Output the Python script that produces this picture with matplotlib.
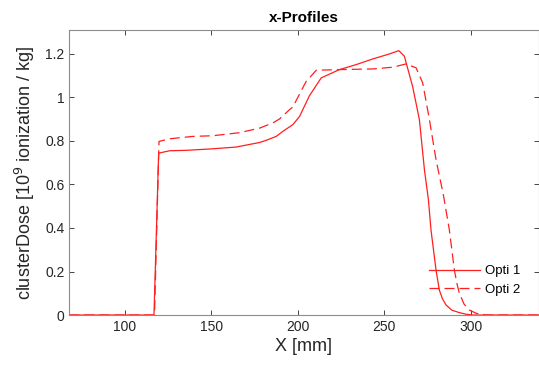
import matplotlib.pyplot as plt
import numpy as np

# x-profiles of cluster dose for two optimisations
x_opti1 = [68, 116.9, 119.6, 126, 135.6, 149, 164.4, 177.9, 181.7, 187.5, 191.3, 197.1,
           201, 206.7, 213.5, 224, 233.7, 243.3, 252.9, 258.3, 261.5, 266.3, 270.2,
           273.1, 275.4, 276.9, 279.8, 281.7, 283.5, 285.6, 289, 293.3, 297, 301, 339]
y_opti1 = [0, 0, 0.744, 0.755, 0.757, 0.763, 0.772, 0.793, 0.803, 0.821, 0.844, 0.875,
           0.913, 1.008, 1.09, 1.128, 1.151, 1.177, 1.20, 1.215, 1.19, 1.05, 0.898,
           0.668, 0.53, 0.391, 0.207, 0.115, 0.075, 0.046, 0.022, 0.011, 0.004, 0.0, 0.0]

x_opti2 = [68, 117.2, 119.8, 126, 139.4, 150.9, 166.3, 177.9, 185.6, 189.4, 195.2, 197.1,
           204.8, 206.7, 210.6, 224, 243.3, 254.8, 262.5, 268.3, 272.1, 276, 279.8,
           284.1, 287.5, 290.4, 292, 293.3, 296, 299, 303, 308.7, 339]
y_opti2 = [0, 0, 0.798, 0.81, 0.821, 0.824, 0.838, 0.859, 0.883, 0.901, 0.944, 0.956,
           1.074, 1.09, 1.125, 1.128, 1.131, 1.139, 1.154, 1.136, 1.067, 0.898, 0.714,
           0.55, 0.391, 0.207, 0.14, 0.1, 0.05, 0.023, 0.008, 0.0, 0.0]

x_ticks = [100, 150, 200, 250, 300]
y_ticks = [0, 0.2, 0.4, 0.6, 0.8, 1, 1.2]
y_ticklabels = ['0', '0.2', '0.4', '0.6', '0.8', '1', '1.2']

plt.rcParams['font.family'] = ['Liberation Sans', 'DejaVu Sans']
grey = '#262626'
red = '#ff1f1f'

fig = plt.figure(figsize=(5.39, 3.69), dpi=100)
ax = fig.add_axes([0.1286, 0.1463, 0.8705, 0.7724])

ax.plot(x_opti1, y_opti1, color=red, lw=0.9, label='Opti 1')
ax.plot(x_opti2, y_opti2, color=red, lw=0.9, ls=(0, (8, 4)), label='Opti 2')

ax.set_xlim(68, 339)
ax.set_ylim(0, 1.31)
ax.set_xticks(x_ticks)
ax.set_yticks(y_ticks)
ax.set_yticklabels(y_ticklabels)
ax.tick_params(direction='in', length=3.5, width=0.6, colors=grey,
               labelsize=10, top=True, right=True)
for s in ax.spines.values():
    s.set_color('#8c8c8c')
    s.set_linewidth(0.8)

ax.set_title('x-Profiles', fontsize=11, fontweight='bold', color='black', pad=6)
ax.set_xlabel('X [mm]', fontsize=13, color=grey, labelpad=3)
ax.set_ylabel('clusterDose [10$^9$ ionization / kg]', fontsize=13, color=grey, labelpad=6)

ax.legend(loc='lower right', bbox_to_anchor=(0.975, 0.045), frameon=False,
          fontsize=9.5, handlelength=3.8, handletextpad=0.4, borderpad=0,
          labelspacing=0.45)

fig.savefig('out.png', dpi=100)
